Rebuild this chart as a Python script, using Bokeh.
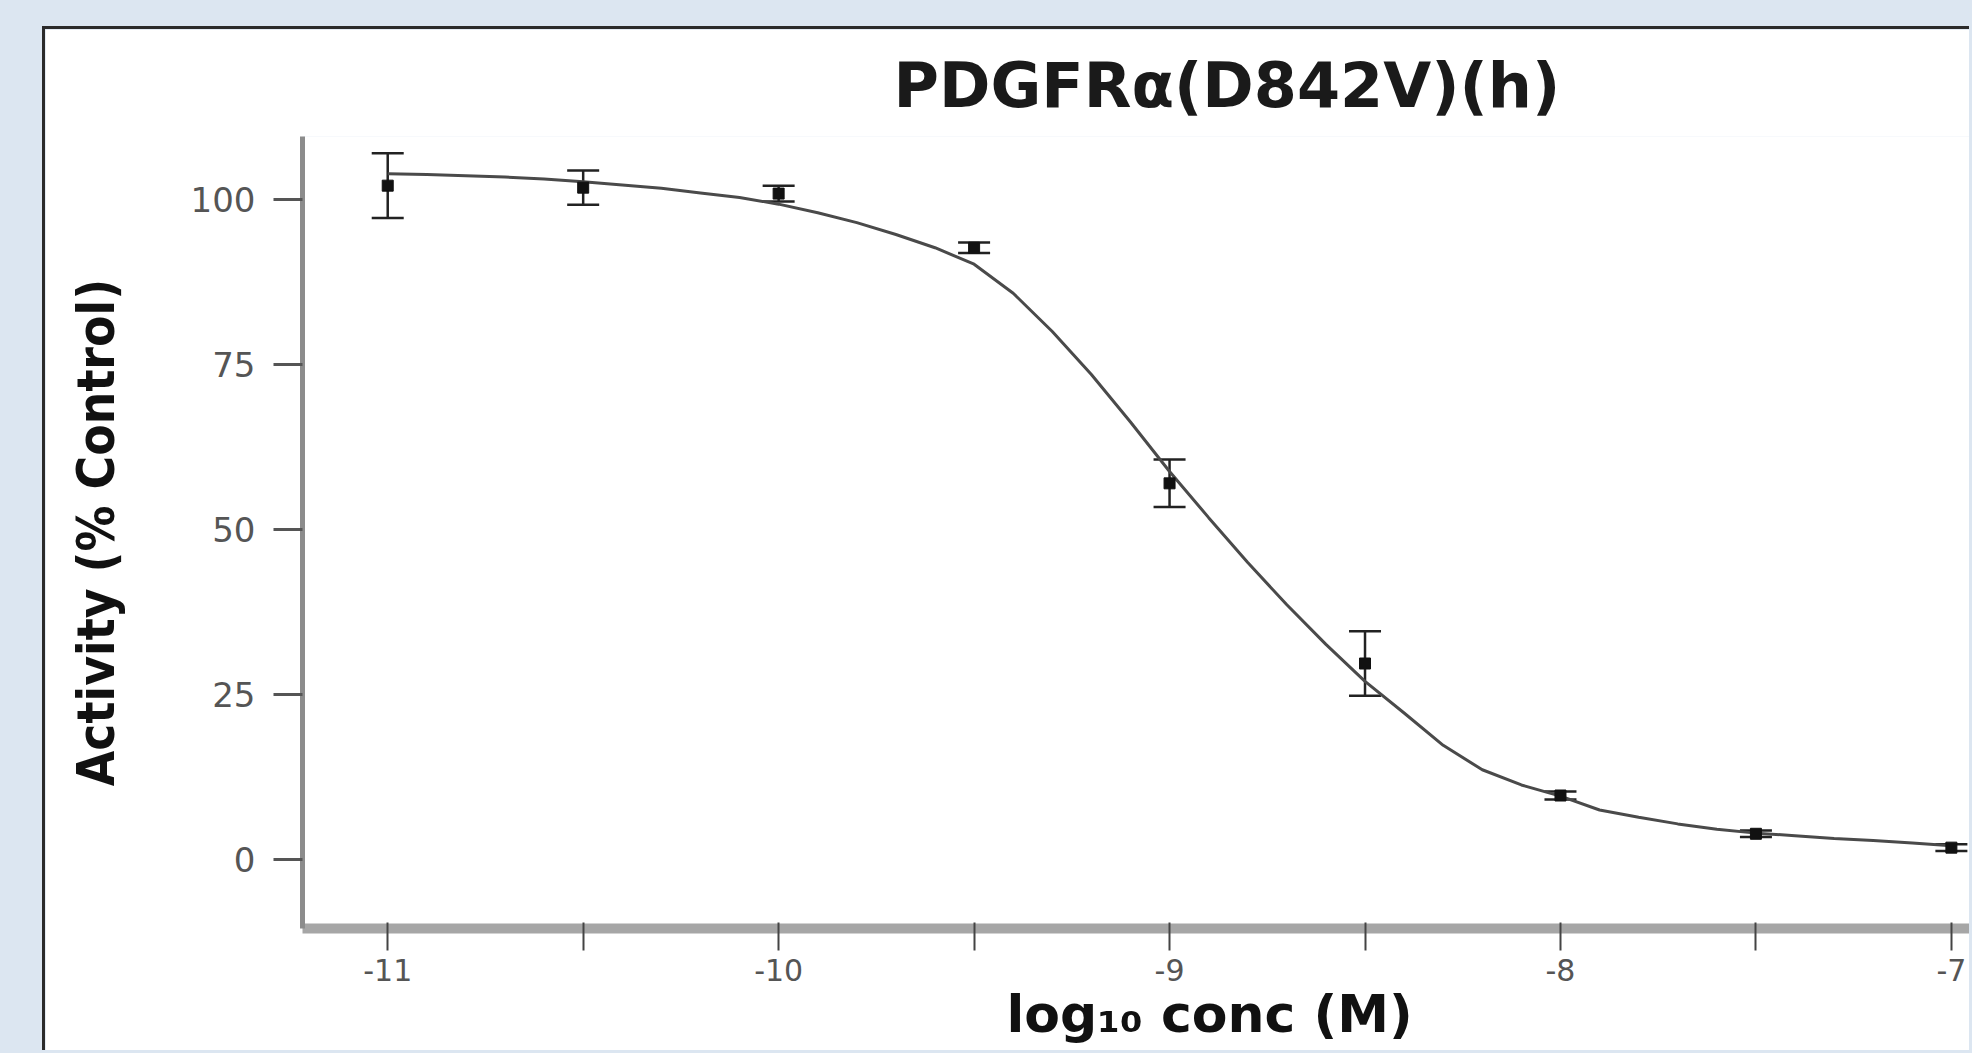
from bokeh.plotting import figure
from bokeh.models import ColumnDataSource, Whisker, TeeHead, FixedTicker, Title, Range1d
from bokeh.embed import file_html
from bokeh.resources import INLINE

# ---------------- data ----------------
title_text = "PDGFRα(D842V)(h)"
x_label_text = "log₁₀ conc (M)"
y_label_text = "Activity (% Control)"

log_conc = [-11.0, -10.5, -10.0, -9.5, -9.0, -8.5, -8.0, -7.5, -7.0]
activity = [102.1, 101.8, 100.9, 92.7, 57.0, 29.7, 9.7, 3.9, 1.8]
activity_err = [4.9, 2.6, 1.2, 0.8, 3.6, 4.9, 0.6, 0.5, 0.5]

fit_x = [-11.0, -10.9, -10.8, -10.7, -10.6, -10.5, -10.4, -10.3, -10.2, -10.1,
         -10.0, -9.9, -9.8, -9.7, -9.6, -9.5, -9.4, -9.3, -9.2, -9.1,
         -9.0, -8.9, -8.8, -8.7, -8.6, -8.5, -8.4, -8.3, -8.2, -8.1,
         -8.0, -7.9, -7.8, -7.7, -7.6, -7.5, -7.4, -7.3, -7.2, -7.1, -7.0]
fit_y = [103.9, 103.8, 103.6, 103.4, 103.1, 102.7, 102.2, 101.7, 101.0, 100.3,
         99.3, 98.0, 96.5, 94.7, 92.7, 90.2, 85.8, 80.0, 73.5, 66.3,
         58.8, 51.8, 45.0, 38.6, 32.6, 27.0, 22.2, 17.3, 13.6, 11.3,
         9.6, 7.5, 6.4, 5.4, 4.6, 4.0, 3.6, 3.2, 2.9, 2.5, 2.1]

x_ticks = [-11.0, -10.5, -10.0, -9.5, -9.0, -8.5, -8.0, -7.5, -7.0]
x_tick_labels = ["-11", "", "-10", "", "-9", "", "-8", "", "-7"]
y_ticks = [0, 25, 50, 75, 100]

# ---------------- figure ----------------
p = figure(
    width=1927, height=1024,
    x_range=Range1d(-11.218, -6.946), y_range=Range1d(-10.45, 109.55),
    output_backend="svg", toolbar_location=None, title=title_text,
    min_border_left=257, min_border_right=0, min_border_top=107, min_border_bottom=125,
    background_fill_color="white", border_fill_color="white",
    outline_line_color=None,
    margin=(26, 0, 0, 42),
    styles={"border-left": "3px solid #2b2b2b", "border-top": "3px solid #2b2b2b"},
)

p.title.text_font = "DejaVu Sans"
p.title.text_font_size = "62px"
p.title.text_font_style = "bold"
p.title.text_color = "#1a1a1a"
p.title.align = "left"
p.title.offset = 591
p.title.standoff = 29

p.xgrid.visible = False
p.ygrid.visible = False

# y axis
p.yaxis.ticker = FixedTicker(ticks=y_ticks)
p.yaxis.axis_line_width = 5
p.yaxis.axis_line_color = "#8c8c8c"
p.yaxis.major_tick_line_width = 3
p.yaxis.major_tick_line_color = "#555555"
p.yaxis.major_tick_out = 29
p.yaxis.major_tick_in = 0
p.yaxis.minor_tick_line_color = None
p.yaxis.major_label_text_font = "DejaVu Sans"
p.yaxis.major_label_text_font_size = "34px"
p.yaxis.major_label_text_color = "#555555"
p.yaxis.major_label_standoff = 18
p.yaxis.axis_label = y_label_text
p.yaxis.axis_label_text_font = "'DejaVu Sans Condensed', sans-serif"
p.yaxis.axis_label_text_font_style = "bold"
p.yaxis.axis_label_text_font_size = "51px"
p.yaxis.axis_label_text_color = "#111111"
p.yaxis.axis_label_standoff = 62

# x axis
p.xaxis.ticker = FixedTicker(ticks=x_ticks)
p.xaxis.major_label_overrides = {t: s for t, s in zip(x_ticks, x_tick_labels)}
p.xaxis.axis_line_width = 10
p.xaxis.axis_line_color = "#a6a6a6"
p.xaxis.major_tick_line_width = 2
p.xaxis.major_tick_line_color = "#444444"
p.xaxis.major_tick_out = 22
p.xaxis.major_tick_in = 6
p.xaxis.minor_tick_line_color = None
p.xaxis.major_label_text_font = "DejaVu Sans"
p.xaxis.major_label_text_font_size = "30px"
p.xaxis.major_label_text_color = "#555555"
p.xaxis.major_label_standoff = 8

# x axis title, placed under the axis and centred like the reference
xt = Title(text=x_label_text, align="left", offset=704, standoff=0, vertical_align="top",
           text_font="DejaVu Sans", text_font_style="bold", text_font_size="52px",
           text_color="#111111")
p.add_layout(xt, "below")

# ---------------- marks ----------------
p.line(fit_x, fit_y, line_color="#4a4a4a", line_width=3)

src = ColumnDataSource(data=dict(
    x=log_conc,
    y=activity,
    upper=[a + e for a, e in zip(activity, activity_err)],
    lower=[a - e for a, e in zip(activity, activity_err)],
))

wh = Whisker(base="x", upper="upper", lower="lower", source=src,
             line_color="#222222", line_width=2.5,
             upper_head=TeeHead(size=32, line_color="#222222", line_width=2.5),
             lower_head=TeeHead(size=32, line_color="#222222", line_width=2.5))
p.add_layout(wh)

p.scatter("x", "y", source=src, marker="square", size=11,
          fill_color="#111111", line_color="#111111")

html = file_html(p, INLINE)
html = html.replace("</head>", "<style>html,body{background:#dce6f1;}</style></head>", 1)
open("out.html", "w").write(html)
